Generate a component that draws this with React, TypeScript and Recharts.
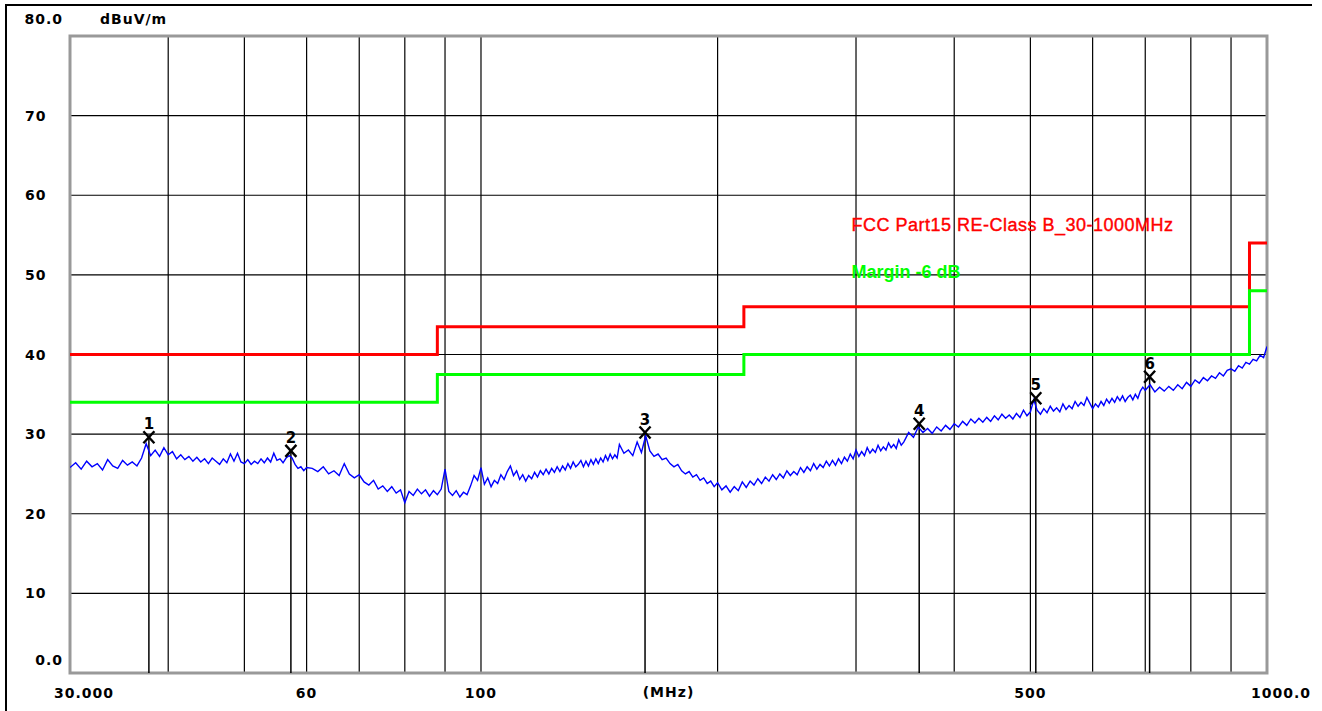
import {
  CartesianGrid,
  ComposedChart,
  Line,
  ReferenceArea,
  ReferenceDot,
  ReferenceLine,
  Scatter,
  XAxis,
  YAxis
} from "recharts";

// frequency grid (MHz) and level grid (dBuV/m)
const freqTicks = [30, 40, 50, 60, 70, 80, 90, 100, 200, 300, 400, 500, 600, 700, 800, 900, 1000];
const freqLabels: Record<number, string> = { 30: "30.000", 60: "60", 100: "100", 500: "500", 1000: "1000.0" };
const levelTicks = [0, 10, 20, 30, 40, 50, 60, 70, 80];
const levelLabels: Record<number, string> = { 0: "0.0", 80: "80.0" };

const unitText = "dBuV/m";
const freqUnitText = "(MHz)";
const limitTitle = "FCC Part15 RE-Class B_30-1000MHz";
const marginTitle = "Margin -6 dB";

// limit line and -6 dB margin, [MHz, dBuV/m], step after each point
const limitSteps = [[30, 40], [88, 43.5], [216, 46], [950, 54], [1000, 54]];
const marginSteps = [[30, 34], [88, 37.5], [216, 40], [950, 48], [1000, 48]];

// peak markers
const markerPoints = [
  { n: 1, freq: 37.8, level: 29.6 },
  { n: 2, freq: 57.3, level: 27.9 },
  { n: 3, freq: 161.7, level: 30.2 },
  { n: 4, freq: 361, level: 31.3 },
  { n: 5, freq: 508, level: 34.5 },
  { n: 6, freq: 709, level: 37.2 }
];

const trace30to60 = [
  [30, 25.8], [30.5, 26.4], [31, 25.6], [31.5, 26.6], [32, 25.9], [32.5, 26.3], [33, 25.5], [33.5, 26.8],
  [34, 26.0], [34.5, 25.7], [35, 26.7], [35.5, 26.1], [36, 26.5], [36.5, 26.0], [37, 27.0], [37.5, 28.8],
  [38, 27.3], [38.5, 28.0], [39, 27.2], [39.5, 28.3], [40, 27.4], [40.5, 27.8], [41, 26.9], [41.5, 27.4],
  [42, 26.8], [42.5, 27.2], [43, 26.6], [43.5, 27.1], [44, 26.5], [44.5, 26.9], [45, 26.3], [45.5, 27.0],
  [46, 26.6], [46.5, 26.2], [47, 26.9], [47.5, 26.4], [48, 27.5], [48.5, 26.6], [49, 27.6], [49.5, 26.5],
  [50, 26.3], [50.5, 26.8], [51, 26.2], [51.5, 26.6], [52, 26.3], [52.5, 26.9], [53, 26.4], [53.5, 27.0],
  [54, 26.5], [54.5, 27.6], [55, 26.7], [55.5, 26.9], [56, 26.4], [56.5, 27.0], [57, 27.3], [57.5, 27.0],
  [58, 26.2], [58.5, 25.7], [59, 25.9], [59.5, 25.4]
];
const trace60to100 = [
  [60, 25.8], [61, 25.7], [62, 25.3], [63, 25.9], [64, 25.0], [65, 25.4], [66, 24.8], [67, 26.3],
  [68, 25.0], [69, 24.5], [70, 24.9], [71, 24.0], [72, 23.6], [73, 24.2], [74, 23.1], [75, 23.5],
  [76, 22.8], [77, 23.4], [78, 22.6], [79, 23.0], [80, 21.4], [81, 22.8], [82, 22.3], [83, 23.1],
  [84, 22.5], [85, 23.0], [86, 22.2], [87, 22.9], [88, 22.4], [89, 23.1], [90, 25.6], [91, 22.8],
  [92, 22.3], [93, 22.9], [94, 22.1], [95, 22.7], [96, 22.4], [97, 23.5], [98, 24.8], [99, 24.2],
  [100, 25.8]
];
const trace100to200 = [
  [101, 23.7], [102, 24.5], [103, 23.4], [104, 24.2], [105, 23.8], [106, 24.9], [107, 24.3], [108, 25.3],
  [109, 26.0], [110, 24.8], [111, 25.4], [112, 24.3], [113, 24.9], [114, 24.1], [115, 24.8], [116, 24.4],
  [117, 25.2], [118, 24.6], [119, 25.4], [120, 24.9], [121, 25.6], [122, 25.0], [123, 25.7], [124, 25.2],
  [125, 25.9], [126, 25.3], [127, 26.0], [128, 25.5], [129, 26.3], [130, 25.7], [131, 26.5], [132, 25.9],
  [133, 26.2], [134, 26.7], [135, 25.9], [136, 26.6], [137, 26.0], [138, 26.8], [139, 26.2], [140, 26.9],
  [141, 26.3], [142, 27.0], [143, 26.5], [144, 27.3], [145, 26.7], [146, 27.5], [147, 26.9], [148, 27.4],
  [149, 27.0], [150, 28.7], [152, 27.6], [154, 28.0], [156, 27.3], [158, 29.0], [160, 27.7], [162, 29.8],
  [164, 27.9], [166, 27.2], [168, 27.5], [170, 26.8], [172, 27.0], [174, 26.3], [176, 25.9], [178, 26.2],
  [180, 25.4], [182, 25.0], [184, 25.3], [186, 24.6], [188, 24.9], [190, 24.2], [192, 24.5], [194, 23.8],
  [196, 24.1], [198, 23.4], [200, 23.9]
];
const trace200to500 = [
  [202.5, 23.0], [205, 23.5], [207.5, 22.7], [210, 23.4], [212.5, 22.9], [215, 24.0], [217.5, 23.3],
  [220, 24.1], [222.5, 23.6], [225, 24.4], [227.5, 23.8], [230, 24.6], [232.5, 24.1], [235, 24.9],
  [237.5, 24.3], [240, 25.0], [242.5, 24.5], [245, 25.4], [247.5, 24.8], [250, 25.3], [252.5, 24.9],
  [255, 25.8], [257.5, 25.2], [260, 25.9], [262.5, 25.4], [265, 26.3], [267.5, 25.6], [270, 26.2],
  [272.5, 25.8], [275, 26.6], [277.5, 26.0], [280, 26.7], [282.5, 26.1], [285, 26.9], [287.5, 26.3],
  [290, 27.1], [292.5, 26.6], [295, 27.5], [297.5, 26.9], [300, 28.0], [302.5, 27.2], [305, 27.8],
  [307.5, 27.3], [310, 28.3], [312.5, 27.6], [315, 28.1], [317.5, 27.7], [320, 28.6], [322.5, 27.9],
  [325, 28.4], [327.5, 28.0], [330, 28.9], [332.5, 28.3], [335, 28.7], [337.5, 28.2], [340, 29.3],
  [342.5, 28.6], [345, 29.0], [347.5, 29.6], [350, 30.2], [355, 29.6], [360, 30.9], [365, 30.2],
  [370, 30.7], [375, 30.1], [380, 30.9], [385, 30.4], [390, 31.1], [395, 30.6], [400, 31.3],
  [405, 30.9], [410, 31.6], [415, 31.1], [420, 31.9], [425, 31.4], [430, 32.0], [435, 31.5], [440, 32.1],
  [445, 31.6], [450, 32.3], [455, 31.8], [460, 32.5], [465, 32.0], [470, 32.4], [475, 31.9], [480, 32.6],
  [485, 32.1], [490, 33.0], [495, 32.3], [500, 32.8]
];
const trace500to1000 = [
  [505, 34.3], [510, 33.0], [515, 32.5], [520, 33.2], [525, 32.7], [530, 33.5], [535, 32.9], [540, 33.3],
  [545, 32.8], [550, 33.8], [555, 33.1], [560, 33.6], [565, 33.2], [570, 34.1], [575, 33.5], [580, 34.0],
  [585, 33.6], [590, 34.6], [595, 33.9], [600, 33.2], [605, 33.8], [610, 33.4], [615, 34.1], [620, 33.6],
  [625, 34.4], [630, 33.9], [635, 34.5], [640, 34.0], [645, 34.7], [650, 34.2], [655, 34.8], [660, 34.1],
  [665, 34.6], [670, 34.9], [675, 34.3], [680, 35.0], [685, 34.5], [690, 35.4], [695, 35.9], [700, 35.5],
  [710, 36.2], [720, 35.3], [730, 35.9], [740, 35.4], [750, 36.0], [760, 35.5], [770, 36.2], [780, 35.7],
  [790, 36.5], [800, 36.0], [810, 36.8], [820, 36.4], [830, 37.1], [840, 36.7], [850, 37.3], [860, 37.0],
  [870, 37.7], [880, 37.3], [890, 38.0], [900, 38.2], [910, 37.9], [920, 38.6], [930, 38.3], [940, 39.0],
  [950, 38.8], [960, 39.4], [970, 39.2], [980, 39.9], [990, 39.6], [1000, 41.0]
];

const toRows = (pairs: number[][], key: string) => pairs.map(([freq, v]) => ({ freq, [key]: v }));

const traceRows = toRows(
  [...trace30to60, ...trace60to100, ...trace100to200, ...trace200to500, ...trace500to1000],
  "level"
);
const limitRows = toRows(limitSteps, "limit");
const marginRows = toRows(marginSteps, "margin");

const labelFont = {
  fontFamily: "'DejaVu Sans', sans-serif",
  fontWeight: 700,
  fontSize: 14,
  letterSpacing: 1,
  fill: "#000"
};

function FreqTick(props: any) {
  const { x, y, payload } = props;
  const text = freqLabels[payload.value];
  if (!text) return <g />;
  const edge = payload.value === 30 || payload.value === 1000;
  return (
    <text
      x={edge ? x - 16 : x}
      y={y + 18}
      textAnchor={edge ? "start" : "middle"}
      dominantBaseline="central"
      style={labelFont}
    >
      {text}
    </text>
  );
}

function LevelTick(props: any) {
  const { x, y, payload } = props;
  const v = payload.value;
  const text = levelLabels[v] ?? String(v);
  if (v === 80) {
    return (
      <g>
        <text x={x - 5} y={y - 17} textAnchor="end" dominantBaseline="central" style={labelFont}>
          {text}
        </text>
        <text x={x + 32} y={y - 17} textAnchor="start" dominantBaseline="central" style={labelFont}>
          {unitText}
        </text>
      </g>
    );
  }
  if (v === 0) {
    return (
      <text x={x - 5} y={y - 13} textAnchor="end" dominantBaseline="central" style={labelFont}>
        {text}
      </text>
    );
  }
  return (
    <text x={x - 43} y={y} textAnchor="start" dominantBaseline="central" style={labelFont}>
      {text}
    </text>
  );
}

function MarkerShape(props: any) {
  const { cx, cy, payload } = props;
  return (
    <g>
      <line x1={cx - 5.5} y1={cy - 6} x2={cx + 5.5} y2={cy + 6} stroke="#000" strokeWidth={2.4} />
      <line x1={cx - 5.5} y1={cy + 6} x2={cx + 5.5} y2={cy - 6} stroke="#000" strokeWidth={2.4} />
      <text x={cx} y={cy - 8} textAnchor="middle" style={{ ...labelFont, fontSize: 15, letterSpacing: 0 }}>
        {payload.n}
      </text>
    </g>
  );
}

export default function App() {
  return (
    <div style={{ position: "fixed", left: 0, top: 0, width: 1322, height: 711, background: "#fff", overflow: "hidden" }}>
      <div
        style={{
          position: "absolute",
          left: 5,
          top: 4,
          width: 1305,
          height: 720,
          borderLeft: "2px solid #000",
          borderTop: "2px solid #000"
        }}
      />
      <div style={{ position: "absolute", left: 0, top: 0 }}>
        <ComposedChart width={1322} height={711} margin={{ top: 36, right: 55, bottom: 0, left: 0 }}>
          <CartesianGrid stroke="#000" strokeWidth={1.2} />
          <XAxis
            dataKey="freq"
            type="number"
            scale="log"
            domain={[30, 1000]}
            ticks={freqTicks}
            allowDataOverflow
            axisLine={false}
            tickLine={false}
            tickSize={0}
            height={38}
            tick={FreqTick}
            interval={0}
            label={{ value: freqUnitText, position: "center", style: labelFont }}
          />
          <YAxis
            type="number"
            domain={[0, 80]}
            ticks={levelTicks}
            axisLine={false}
            tickLine={false}
            tickSize={0}
            width={70}
            tick={LevelTick}
            interval={0}
          />
          <ReferenceArea x1={30} x2={1000} y1={0} y2={80} fill="none" stroke="#999" strokeWidth={3} />
          {markerPoints.map((m) => (
            <ReferenceLine
              key={m.n}
              segment={[
                { x: m.freq, y: 0 },
                { x: m.freq, y: m.level }
              ]}
              stroke="#000"
              strokeWidth={1.5}
            />
          ))}
          <Line
            data={limitRows}
            dataKey="limit"
            type="stepAfter"
            stroke="#ff0000"
            strokeWidth={3}
            dot={false}
            isAnimationActive={false}
          />
          <Line
            data={marginRows}
            dataKey="margin"
            type="stepAfter"
            stroke="#00ff00"
            strokeWidth={3}
            dot={false}
            isAnimationActive={false}
          />
          <Line
            data={traceRows}
            dataKey="level"
            type="linear"
            stroke="#0000ff"
            strokeWidth={1.4}
            dot={false}
            isAnimationActive={false}
          />
          <Scatter data={markerPoints} dataKey="level" shape={MarkerShape} isAnimationActive={false} />
          <ReferenceDot
            x={296}
            y={56.3}
            r={0}
            fill="none"
            stroke="none"
            label={{
              value: limitTitle,
              position: "right",
              offset: 0,
              style: {
                fontFamily: "'Liberation Sans', Arial, sans-serif",
                fontSize: 18,
                letterSpacing: 0.5,
                fill: "#ff0000",
                stroke: "#ff0000",
                strokeWidth: 0.4
              }
            }}
          />
          <ReferenceDot
            x={296}
            y={50.4}
            r={0}
            fill="none"
            stroke="none"
            label={{
              value: marginTitle,
              position: "right",
              offset: 0,
              style: { fontFamily: "'Liberation Sans', Arial, sans-serif", fontSize: 18, fontWeight: 700, fill: "#00ff00" }
            }}
          />
        </ComposedChart>
      </div>
    </div>
  );
}
